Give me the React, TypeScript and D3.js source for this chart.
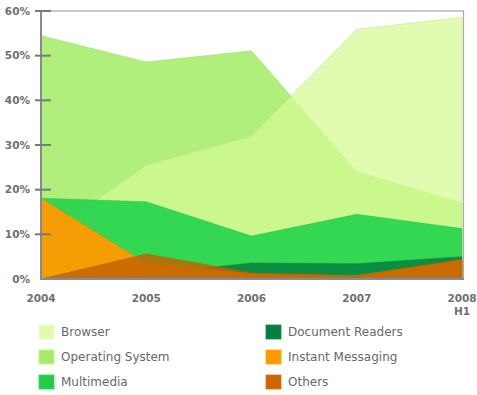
import React from 'react';
import * as d3 from 'd3';

const categories = ['2004', '2005', '2006', '2007', '2008 H1'];
const operatingSystem = [54.5, 48.6, 51.1, 24, 17];
const browser = [9, 25.5, 32, 55.9, 58.6];
const multimedia = [18.1, 17.3, 9.6, 14.5, 11.3];
const documentReaders = [0, 1, 3.6, 3.4, 5];
const instantMessaging = [18.1, 3.5, 1.2, 0.8, 4.3];
const others = [0, 5.6, 1.4, 0.7, 4.5];
const yTicks = [0, 10, 20, 30, 40, 50, 60];

// drawing order: back to front
const series = [
  { name: 'Operating System', values: operatingSystem, fill: '#adee76', opacity: 0.95, swatch: '#a8ea70' },
  { name: 'Browser', values: browser, fill: '#d6fb92', opacity: 0.72, swatch: '#e0fcb0' },
  { name: 'Multimedia', values: multimedia, fill: '#28d44e', opacity: 0.93, swatch: '#22cc48' },
  { name: 'Document Readers', values: documentReaders, fill: '#078a42', opacity: 0.95, swatch: '#087f40' },
  { name: 'Instant Messaging', values: instantMessaging, fill: '#ff9a00', opacity: 0.95, swatch: '#ff9900' },
  { name: 'Others', values: others, fill: '#c26400', opacity: 0.85, swatch: '#cc6600' },
];

const legendOrder = [
  ['Browser', 'Operating System', 'Multimedia'],
  ['Document Readers', 'Instant Messaging', 'Others'],
];

export default function App() {
  const width = 477;
  const height = 395;
  const x = d3.scalePoint<string>().domain(categories).range([41, 462]);
  const y = d3.scaleLinear().domain([0, 60]).range([279, 11]);

  const area = d3
    .area<number>()
    .x((_, i) => x(categories[i]) as number)
    .y0(y(0))
    .y1((d) => y(d));

  const font = '"DejaVu Sans", Verdana, sans-serif';

  return (
    <div style={{ position: 'absolute', left: 0, top: 0 }}>
      <svg width={width} height={height} style={{ display: 'block' }}>
        <rect width={width} height={height} fill="#fff" />
        {series.map((s) => (
          <path
            key={s.name}
            d={area(s.values) as string}
            fill={s.fill}
            fillOpacity={s.opacity}
            stroke={d3.color(s.fill)!.darker(0.4).toString()}
            strokeOpacity={0.5}
            strokeWidth={0.8}
          />
        ))}
        {/* frame */}
        <rect x={41} y={y(60)} width={462 - 41 + 1.5} height={y(0) - y(60)} fill="none" stroke="#a8a8a8" strokeWidth={1.2} />
        <line x1={41} x2={41} y1={y(60)} y2={y(0) + 1} stroke="#8a8a8a" strokeWidth={2} />
        <line x1={40} x2={464} y1={y(0)} y2={y(0)} stroke="#8a8a8a" strokeWidth={2} />
        {yTicks.map((t) => (
          <g key={t}>
            {t > 0 && <line x1={35} x2={51} y1={y(t)} y2={y(t)} stroke="#7a7a7a" strokeWidth={2} />}
            <text
              x={30}
              y={y(t)}
              dy="0.36em"
              textAnchor="end"
              fontFamily={font}
              fontWeight="bold"
              fontSize={10.5}
              fill="#707070"
            >
              {t}%
            </text>
          </g>
        ))}
        {categories.map((c) => {
          const parts = c.split(' ');
          return (
            <text
              key={c}
              x={x(c)}
              y={302}
              textAnchor="middle"
              fontFamily={font}
              fontWeight="bold"
              fontSize={10.5}
              fill="#707070"
            >
              {parts.map((p, i) => (
                <tspan key={p} x={x(c)} dy={i === 0 ? 0 : 13}>
                  {p}
                </tspan>
              ))}
            </text>
          );
        })}
        {legendOrder.map((col, ci) =>
          col.map((name, ri) => {
            const s = series.find((d) => d.name === name)!;
            const lx = ci === 0 ? 39 : 266;
            const ly = 332 + ri * 25;
            return (
              <g key={name}>
                <rect x={lx} y={ly - 7} width={15} height={14} fill={s.swatch} stroke={d3.color(s.swatch)!.brighter(0.3).toString()} strokeWidth={0.8} />
                <text x={lx + 22} y={ly} dy="0.36em" fontFamily={font} fontSize={12} fill="#686868">
                  {name}
                </text>
              </g>
            );
          })
        )}
      </svg>
    </div>
  );
}
